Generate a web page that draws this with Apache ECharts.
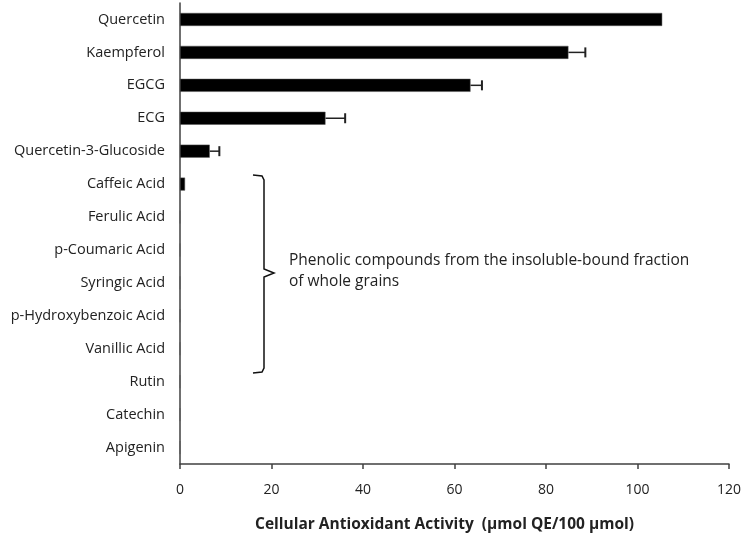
<!DOCTYPE html>
<html>
<head>
<meta charset="utf-8">
<script src="https://cdn.jsdelivr.net/npm/echarts@6/dist/echarts.min.js"></script>
<style>html,body{margin:0;padding:0;background:#fff}#c{width:744px;height:538px}</style>
</head>
<body>
<div id="c"></div>
<script>
const categories = ['Quercetin','Kaempferol','EGCG','ECG','Quercetin-3-Glucoside','Caffeic Acid','Ferulic Acid','p-Coumaric Acid','Syringic Acid','p-Hydroxybenzoic Acid','Vanillic Acid','Rutin','Catechin','Apigenin'];
const values = [105.4, 84.9, 63.5, 31.8, 6.5, 1.1, 0, 0, 0, 0, 0, 0, 0, 0];
const errors = [0, 3.7, 2.5, 4.3, 2.1, 0, 0, 0, 0, 0, 0, 0, 0, 0];
const xTicks = [0, 20, 40, 60, 80, 100, 120];
const axisTitle = 'Cellular Antioxidant Activity  (µmol QE/100 µmol)';
const noteLines = ['Phenolic compounds from the insoluble-bound fraction', 'of whole grains'];

const font = '"Open Sans", "Noto Sans", sans-serif';
const chart = echarts.init(document.getElementById('c'));
const errData = values.map((v, i) => [v, i, errors[i]]).filter(d => d[2] > 0);

chart.setOption({
  animation: false,
  grid: { left: 180, right: 14, top: 3, bottom: 68.5, containLabel: false },
  xAxis: {
    type: 'value', min: xTicks[0], max: xTicks[xTicks.length - 1], interval: 20,
    splitLine: { show: false },
    axisLine: { show: true, lineStyle: { color: '#404040', width: 1.5 } },
    axisTick: { show: true, length: 5, lineStyle: { color: '#404040', width: 1.5 } },
    axisLabel: { color: '#222', fontSize: 14, fontFamily: font, margin: 19 },
    name: axisTitle, nameLocation: 'middle', nameGap: 53,
    nameTextStyle: { color: '#222', fontSize: 15.5, fontWeight: 'bold', fontFamily: font, padding: [0, 20, 0, 0] }
  },
  yAxis: {
    type: 'category', data: categories, inverse: true,
    axisLine: { show: true, lineStyle: { color: '#404040', width: 1.5 } },
    axisTick: { show: false },
    axisLabel: { color: '#222', fontSize: 14.5, fontFamily: font, margin: 15 }
  },
  series: [
    {
      type: 'bar', data: values, barWidth: 13,
      itemStyle: { color: '#000', borderColor: '#555', borderWidth: 0.5 }
    },
    {
      type: 'custom', data: errData, z: 5,
      renderItem: function (params, api) {
        const v = api.value(0), i = api.value(1), e = api.value(2);
        const p0 = api.coord([v, i]);
        const p1 = api.coord([v + e, i]);
        const h = 5;
        return {
          type: 'group',
          children: [
            { type: 'line', shape: { x1: p0[0], y1: p0[1], x2: p1[0], y2: p1[1] }, style: { stroke: '#222', lineWidth: 1.5 } },
            { type: 'line', shape: { x1: p1[0], y1: p1[1] - h, x2: p1[0], y2: p1[1] + h }, style: { stroke: '#222', lineWidth: 2 } }
          ]
        };
      }
    }
  ],
  graphic: [
    {
      type: 'polyline',
      shape: { points: [[253, 175], [262, 176], [264, 180], [264, 269], [274, 273], [264, 277], [264, 368], [262, 372], [253, 373]] },
      style: { stroke: '#111', lineWidth: 1.5, fill: null }
    },
    { type: 'text', left: 289, top: 253, style: { text: noteLines[0], fontSize: 15.5, fontFamily: font, fill: '#222' } },
    { type: 'text', left: 289, top: 274, style: { text: noteLines[1], fontSize: 15.5, fontFamily: font, fill: '#222' } }
  ]
});
</script>
</body>
</html>
